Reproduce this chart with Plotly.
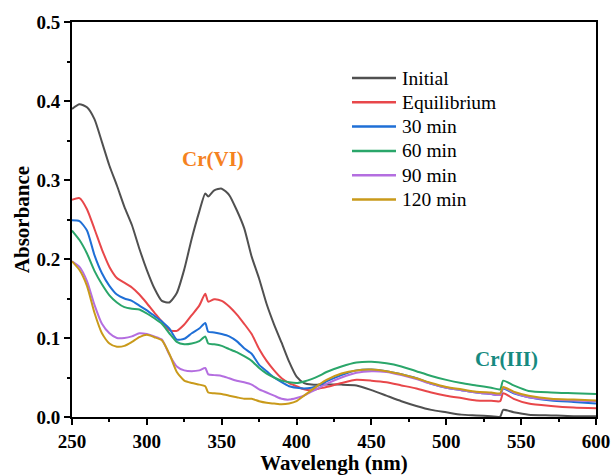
import plotly.graph_objects as go

wavelength = [250, 255, 260, 265, 270, 275, 280, 285, 290, 295, 300, 305, 310, 315, 320, 325, 330, 335,
              339, 341, 345, 350, 355, 360, 365, 370, 375, 380, 385, 390, 395, 400, 405, 410, 415, 420,
              430, 440, 450, 460, 470, 480, 490, 500, 510, 520, 530, 536, 538, 545, 555, 570, 585, 600]

initial = [0.390, 0.396, 0.392, 0.377, 0.348, 0.318, 0.293, 0.266, 0.243, 0.213, 0.186, 0.163, 0.147, 0.145,
           0.157, 0.187, 0.226, 0.260, 0.283, 0.279, 0.287, 0.289, 0.281, 0.262, 0.239, 0.203, 0.175, 0.143,
           0.117, 0.094, 0.070, 0.051, 0.043, 0.041, 0.041, 0.041, 0.041, 0.040, 0.034, 0.027, 0.020, 0.014,
           0.009, 0.006, 0.003, 0.002, 0.001, 0.0005, 0.009, 0.006, 0.003, 0.002, 0.001, 0.001]

equilibrium = [0.275, 0.277, 0.263, 0.238, 0.212, 0.190, 0.176, 0.170, 0.164, 0.155, 0.144, 0.132, 0.121, 0.110,
               0.109, 0.117, 0.129, 0.141, 0.156, 0.146, 0.149, 0.147, 0.140, 0.130, 0.118, 0.105, 0.086, 0.071,
               0.059, 0.049, 0.043, 0.039, 0.035, 0.034, 0.036, 0.038, 0.043, 0.047, 0.046, 0.044, 0.040, 0.036,
               0.031, 0.027, 0.024, 0.021, 0.0205, 0.020, 0.030, 0.023, 0.017, 0.014, 0.012, 0.011]

min30 = [0.249, 0.248, 0.236, 0.205, 0.182, 0.166, 0.155, 0.150, 0.147, 0.141, 0.135, 0.128, 0.121, 0.112,
         0.098, 0.099, 0.106, 0.112, 0.119, 0.108, 0.107, 0.105, 0.102, 0.096, 0.087, 0.080, 0.066, 0.058,
         0.050, 0.044, 0.039, 0.037, 0.036, 0.037, 0.040, 0.045, 0.053, 0.059, 0.060, 0.058, 0.054, 0.049,
         0.042, 0.037, 0.034, 0.031, 0.029, 0.028, 0.036, 0.030, 0.025, 0.021, 0.019, 0.017]

min60 = [0.236, 0.224, 0.207, 0.185, 0.168, 0.154, 0.145, 0.139, 0.137, 0.136, 0.131, 0.125, 0.118, 0.106,
         0.095, 0.092, 0.093, 0.096, 0.102, 0.093, 0.092, 0.090, 0.086, 0.082, 0.077, 0.071, 0.062, 0.055,
         0.050, 0.046, 0.044, 0.043, 0.045, 0.048, 0.052, 0.057, 0.064, 0.069, 0.070, 0.068, 0.064, 0.058,
         0.052, 0.047, 0.043, 0.040, 0.037, 0.035, 0.046, 0.040, 0.033, 0.031, 0.030, 0.029]

min90 = [0.197, 0.190, 0.172, 0.142, 0.118, 0.106, 0.100, 0.100, 0.102, 0.106, 0.105, 0.102, 0.098, 0.079,
         0.064, 0.059, 0.058, 0.059, 0.062, 0.054, 0.053, 0.052, 0.049, 0.046, 0.044, 0.041, 0.035, 0.031,
         0.027, 0.023, 0.022, 0.024, 0.027, 0.032, 0.037, 0.042, 0.050, 0.056, 0.058, 0.057, 0.053, 0.048,
         0.042, 0.037, 0.034, 0.031, 0.029, 0.028, 0.037, 0.031, 0.025, 0.022, 0.021, 0.020]

min120 = [0.197, 0.186, 0.166, 0.132, 0.106, 0.093, 0.089, 0.090, 0.095, 0.101, 0.104, 0.101, 0.097, 0.080,
          0.057, 0.046, 0.043, 0.041, 0.039, 0.031, 0.030, 0.029, 0.027, 0.025, 0.023, 0.023, 0.020, 0.018,
          0.017, 0.016, 0.017, 0.020, 0.027, 0.034, 0.041, 0.047, 0.055, 0.059, 0.060, 0.058, 0.054, 0.049,
          0.043, 0.038, 0.035, 0.032, 0.031, 0.030, 0.038, 0.032, 0.027, 0.023, 0.022, 0.021]

series_names = ["Initial", "Equilibrium", "30 min", "60 min", "90 min", "120 min"]
series_values = [initial, equilibrium, min30, min60, min90, min120]
series_colors = ["#505050", "#e8474a", "#1f6fd6", "#2aa66a", "#b46ee0", "#c99a1a"]

x_ticks = [250, 300, 350, 400, 450, 500, 550, 600]
y_ticks = [0.0, 0.1, 0.2, 0.3, 0.4, 0.5]

fig = go.Figure()
for name, vals, col in zip(series_names, series_values, series_colors):
    fig.add_trace(go.Scatter(x=wavelength, y=vals, mode="lines", name=name,
                             line=dict(color=col, width=2, shape="spline", smoothing=0.6),
                             showlegend=False))

W, H = 614, 475
ml, mr, mt, mb = 72, 18, 22, 58
pw, ph = W - ml - mr, H - mt - mb

# manual legend (matching the original's long line samples)
leg_x0, leg_x1, leg_tx = 352, 396, 400
leg_y0, leg_dy = 78, 24.3
for i, (name, col) in enumerate(zip(series_names, series_colors)):
    py = leg_y0 + i * leg_dy
    yp = (H - mb - py) / ph
    fig.add_shape(type="line", xref="paper", yref="paper",
                  x0=(leg_x0 - ml) / pw, x1=(leg_x1 - ml) / pw, y0=yp, y1=yp,
                  line=dict(color=col, width=2.5))
    fig.add_annotation(xref="paper", yref="paper", x=(leg_tx - ml) / pw, y=yp,
                       text=name, showarrow=False, xanchor="left", yanchor="middle",
                       font=dict(family="Liberation Serif", size=19.5, color="black"))

fig.add_annotation(x=344.5, y=0.327, xref="x", yref="y", text="<b>Cr(VI)</b>", showarrow=False,
                   font=dict(family="Liberation Serif", size=21, color="#f5821f"))
fig.add_annotation(x=540, y=0.074, xref="x", yref="y", text="<b>Cr(III)</b>", showarrow=False,
                   font=dict(family="Liberation Serif", size=21, color="#168a80"))

axis_font = dict(family="Liberation Serif", size=19, color="black")
title_font = dict(family="Liberation Serif", size=21, color="black")

fig.update_xaxes(range=[250, 600], tickvals=x_ticks, ticktext=[f"<b>{v}</b>" for v in x_ticks],
                 showline=True, linecolor="black", linewidth=2, mirror=True, automargin=False,
                 ticks="outside", ticklen=6, tickwidth=2, tickcolor="black",
                 minor=dict(ticks="outside", ticklen=3, tickwidth=2, tickcolor="black", dtick=25, tick0=250),
                 showgrid=False, zeroline=False, tickfont=axis_font,
                 title=dict(text="<b>Wavelengh (nm)</b>", font=title_font, standoff=2))
fig.update_yaxes(range=[0, 0.5], tickvals=y_ticks, ticktext=[f"<b>{v:.1f}</b>" for v in y_ticks],
                 showline=True, linecolor="black", linewidth=2, mirror=True, automargin=False,
                 ticks="outside", ticklen=6, tickwidth=2, tickcolor="black",
                 minor=dict(ticks="outside", ticklen=3, tickwidth=2, tickcolor="black", dtick=0.05, tick0=0),
                 showgrid=False, zeroline=False, tickfont=axis_font,
                 title=dict(text="<b>Absorbance</b>", font=title_font, standoff=1))

fig.update_layout(width=W, height=H, margin=dict(l=ml, r=mr, t=mt, b=mb),
                  paper_bgcolor="white", plot_bgcolor="white", showlegend=False)

fig.write_html("out.html")
